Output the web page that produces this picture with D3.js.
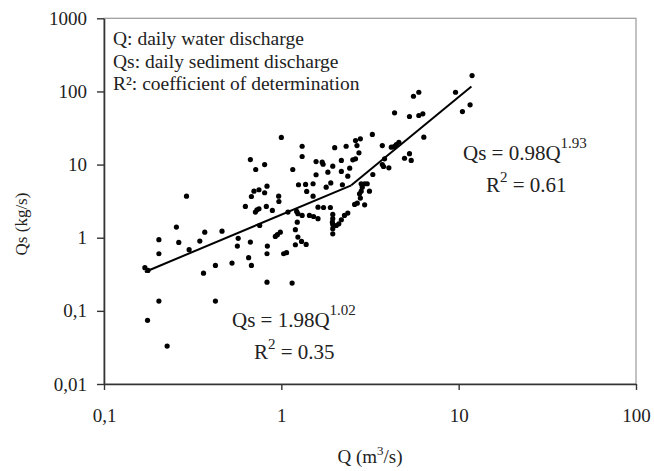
<!DOCTYPE html>
<html>
<head>
<meta charset="utf-8">
<script src="https://cdn.jsdelivr.net/npm/d3@7"></script>
<style>
  body { margin: 0; background: #fff; }
  svg text { font-family: "Liberation Serif", "Times New Roman", serif; fill: #222; }
</style>
</head>
<body>
<div id="graph"></div>
<script>
// daily water discharge Q (m3/s)
var qValues = [
    0.170, 0.177, 0.176, 0.204, 0.204, 0.204, 0.227, 0.256, 0.264, 0.292,
    0.302, 0.347, 0.364, 0.370, 0.425, 0.425, 0.463, 0.527, 0.565, 0.571,
    0.627, 0.654, 0.669, 0.669, 0.678, 0.678, 0.701, 0.714, 0.717, 0.729,
    0.748, 0.748, 0.755, 0.805, 0.805, 0.823, 0.830, 0.834, 0.830, 0.830,
    0.890, 0.925, 0.950, 0.966, 0.969, 0.987, 1.00, 1.03, 1.07, 1.09,
    1.15, 1.16, 1.20, 1.20, 1.22, 1.23, 1.24, 1.24, 1.25, 1.30,
    1.31, 1.31, 1.31, 1.38, 1.37, 1.39, 1.44, 1.51, 1.51, 1.52,
    1.57, 1.57, 1.61, 1.61, 1.70, 1.72, 1.73, 1.79, 1.83, 1.89,
    1.90, 1.95, 1.95, 1.95, 1.94, 1.95, 1.95, 1.95, 2.00, 2.04,
    2.11, 2.18, 2.18, 2.18, 2.21, 2.27, 2.32, 2.37, 2.37, 2.43,
    2.53, 2.59, 2.62, 2.62, 2.67, 2.68, 2.74, 2.76, 2.79, 2.79,
    2.82, 2.82, 2.86, 2.95, 2.95, 3.05, 3.14, 3.26, 3.28, 3.71,
    3.71, 3.77, 3.82, 4.04, 4.17, 4.35, 4.45, 4.60, 4.35, 4.95,
    5.28, 5.40, 5.28, 5.56, 5.96, 5.96, 6.28, 6.36, 9.60, 10.5,
    11.6, 11.9
];
// daily sediment discharge Qs (kg/s), same order
var qsValues = [
    0.389, 0.357, 0.0742, 0.94, 0.604, 0.136, 0.033, 1.40, 0.863, 3.70,
    0.686, 0.899, 0.328, 1.19, 0.418, 0.136, 1.23, 0.450, 0.768, 0.98,
    2.68, 0.533, 11.7, 0.871, 3.66, 0.418, 4.33, 2.24, 8.57, 2.41,
    4.53, 2.49, 1.47, 10.0, 4.12, 2.68, 5.07, 0.768, 0.604, 0.247,
    2.36, 1.04, 1.10, 3.70, 3.13, 1.19, 23.5, 0.604, 0.624, 2.24,
    0.240, 8.57, 1.29, 0.802, 2.29, 1.63, 2.13, 1.02, 5.30, 0.890,
    17.8, 12.9, 2.02, 0.810, 5.35, 4.29, 2.02, 5.47, 3.70, 1.95,
    11.0, 7.26, 2.62, 1.82, 10.8, 10.1, 2.59, 4.91, 7.87, 2.59,
    5.61, 9.51, 2.08, 1.82, 1.63, 1.52, 1.33, 1.13, 17.0, 1.47,
    1.55, 11.4, 8.05, 1.76, 5.30, 2.02, 17.8, 6.95, 2.17, 8.93,
    11.6, 2.85, 21.3, 12.0, 18.2, 2.97, 14.5, 3.99, 3.48, 22.5,
    5.47, 4.33, 4.91, 5.47, 2.82, 5.47, 4.33, 25.8, 7.32, 18.2,
    10.0, 9.42, 12.0, 9.04, 17.3, 17.7, 18.8, 20.2, 51.0, 12.2,
    14.1, 11.4, 45.4, 85.9, 97.5, 46.9, 49.4, 23.7, 97.5, 53.1,
    65.6, 165
];

// fitted rating curves, end points [Q, Qs]
var fitLow = [[0.17, 0.34], [2.48, 5.2]];
var fitHigh = [[2.48, 5.2], [11.8, 117]];

var xTicks = [0.1, 1, 10, 100];
var xTickLabels = ['0,1', '1', '10', '100'];
var yTicks = [0.01, 0.1, 1, 10, 100, 1000];
var yTickLabels = ['0,01', '0,1', '1', '10', '100', '1000'];

var legendLines = [
    'Q: daily water discharge',
    'Qs: daily sediment discharge',
    'R\u00b2: coefficient of determination'
];

var width = 654,
    height = 471;
var plotLeft = 104, plotRight = 636, plotTop = 18.3, plotBottom = 384;

var svg = d3.select('#graph')
    .append('svg')
        .attr('width', width)
        .attr('height', height);

var x = d3.scaleLog()
    .domain([0.1, 100])
    .range([plotLeft, plotRight]);
var y = d3.scaleLog()
    .domain([0.01, 1000])
    .range([plotBottom, plotTop]);

// frame (top and right in grey)
svg.append('rect')
    .attr('x', plotLeft)
    .attr('y', plotTop)
    .attr('width', plotRight - plotLeft)
    .attr('height', plotBottom - plotTop)
    .attr('fill', 'none')
    .attr('stroke', '#999')
    .attr('stroke-width', 1.2);

var xAxis = svg.append('g')
    .attr('transform', 'translate(0,' + plotBottom + ')')
    .call(d3.axisBottom(x)
        .tickValues(xTicks)
        .tickFormat(function(d, i) { return xTickLabels[i]; })
        .tickSize(6)
        .tickSizeOuter(0)
        .tickPadding(19));

var yAxis = svg.append('g')
    .attr('transform', 'translate(' + plotLeft + ',0)')
    .call(d3.axisLeft(y)
        .tickValues(yTicks)
        .tickFormat(function(d, i) { return yTickLabels[i]; })
        .tickSize(7)
        .tickSizeOuter(0)
        .tickPadding(10));

[xAxis, yAxis].forEach(function(g) {
    g.select('.domain').attr('stroke', '#333').attr('stroke-width', 1.6);
    g.selectAll('.tick line').attr('stroke', '#333').attr('stroke-width', 1.4);
    g.selectAll('.tick text')
        .attr('font-size', 19)
        .attr('font-family', '"Liberation Serif", serif')
        .attr('fill', '#222');
});

// scatter
var points = qValues.map(function(q, i) { return {q: q, qs: qsValues[i]}; });
svg.append('g')
    .selectAll('circle')
    .data(points)
    .enter()
    .append('circle')
        .attr('cx', function(d) { return x(d.q); })
        .attr('cy', function(d) { return y(d.qs); })
        .attr('r', 2.6)
        .attr('fill', '#000');

// fit lines
var line = d3.line()
    .x(function(d) { return x(d[0]); })
    .y(function(d) { return y(d[1]); });
[fitLow, fitHigh].forEach(function(seg) {
    svg.append('path')
        .attr('d', line(seg))
        .attr('fill', 'none')
        .attr('stroke', '#000')
        .attr('stroke-width', 2);
});

// legend text
svg.append('g')
    .selectAll('text')
    .data(legendLines)
    .enter()
    .append('text')
        .attr('x', 113)
        .attr('y', function(d, i) { return 45 + i * 22.5; })
        .attr('font-size', 19.5)
        .attr('fill', '#000')
        .text(function(d) { return d; });

// equations
function equation(xPos, yPos, coef, expo, r2, r2x) {
    var t = svg.append('text')
        .attr('x', xPos)
        .attr('y', yPos)
        .attr('font-size', 21)
        .attr('fill', '#333');
    t.append('tspan').text('Qs = ' + coef + 'Q');
    t.append('tspan').attr('dy', -12).attr('font-size', 15).text(expo);

    var r = svg.append('text')
        .attr('x', r2x)
        .attr('y', yPos + 32)
        .attr('font-size', 21)
        .attr('fill', '#333');
    r.append('tspan').text('R');
    r.append('tspan').attr('dy', -10).attr('font-size', 15).text('2');
    r.append('tspan').attr('dy', 10).text(' = ' + r2);
}
equation(463, 160, '0.98', '1.93', '0.61', 486);
equation(232, 327, '1.98', '1.02', '0.35', 254);

// axis titles
var xt = svg.append('text')
    .attr('x', 370)
    .attr('y', 463)
    .attr('text-anchor', 'middle')
    .attr('font-size', 19)
    .attr('fill', '#333');
xt.append('tspan').text('Q (m');
xt.append('tspan').attr('dy', -8).attr('font-size', 13).text('3');
xt.append('tspan').attr('dy', 8).text('/s)');

svg.append('text')
    .attr('transform', 'translate(27,224) rotate(-90)')
    .attr('text-anchor', 'middle')
    .attr('font-size', 17)
    .attr('font-family', '"Liberation Sans", Arial, sans-serif')
    .attr('fill', '#333')
    .text('Qs (kg/s)');
</script>
</body>
</html>
